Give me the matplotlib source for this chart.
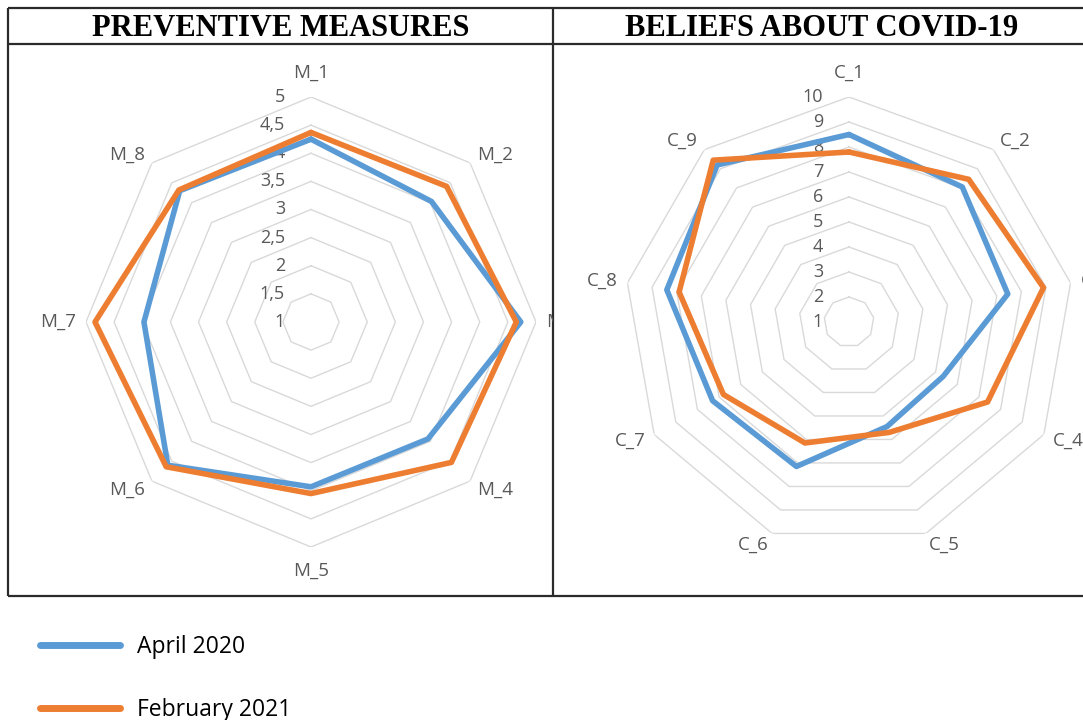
import numpy as np
import matplotlib.pyplot as plt
from matplotlib.transforms import Bbox, TransformedBbox

# data
measures = ["M_1", "M_2", "M_3", "M_4", "M_5", "M_6", "M_7", "M_8"]
measures_apr20 = [4.25, 4.03, 4.73, 3.94, 3.93, 4.60, 3.97, 4.30]
measures_feb21 = [4.37, 4.41, 4.65, 4.53, 4.05, 4.64, 4.84, 4.32]
measure_ticks = [1, 1.5, 2, 2.5, 3, 3.5, 4, 4.5, 5]

beliefs = ["C_1", "C_2", "C_3", "C_4", "C_5", "C_6", "C_7", "C_8", "C_9"]
beliefs_apr20 = [8.5, 8.05, 7.45, 5.35, 5.45, 7.15, 7.3, 8.4, 9.2]
beliefs_feb21 = [7.8, 8.45, 8.9, 7.4, 5.7, 6.15, 6.8, 7.9, 9.45]
belief_ticks = [1, 2, 3, 4, 5, 6, 7, 8, 9, 10]

series_names = ["April 2020", "February 2021"]

BLUE = "#5B9BD5"
ORANGE = "#ED7D31"
GRID = "#D9D9D9"
TXT = "#595959"

plt.rcParams['font.family'] = ['Open Sans', 'DejaVu Sans']

W, H = 1083, 720
fig = plt.figure(figsize=(W / 100, H / 100), dpi=100)

# table frame drawn in pixel coordinates
bg = fig.add_axes([0, 0, 1, 1])
bg.set_xlim(0, W)
bg.set_ylim(H, 0)
bg.axis('off')
frame = dict(color="#2b2b2b", lw=1.6, solid_capstyle='butt')
bg.plot([8, W], [8, 8], **frame)
bg.plot([8, W], [44, 44], **frame)
bg.plot([8, W], [596, 596], **frame)
bg.plot([8, 8], [8, 596], **frame)
bg.plot([553, 553], [8, 596], **frame)
title_font = dict(family='Liberation Serif', weight='bold', size=22,
                  ha='center', va='center', color='black')
bg.text(280.5, 28, "PREVENTIVE MEASURES", **title_font)
bg.text(822, 28, "BELIEFS ABOUT COVID-19", **title_font)


def radar(cx, cy, labels, apr, feb, ticks, comma, cell):
    '''
    Draws one Excel style radar chart centred on pixel (cx, cy),
    texts are clipped to the table cell (x0, x1) in pixels
    '''
    R = 225
    ax = fig.add_axes([(cx - R) / W, 1 - (cy + R) / H, 2 * R / W, 2 * R / H],
                      projection='polar')
    ax.set_theta_zero_location('N')
    ax.set_theta_direction(-1)
    ax.set_ylim(ticks[0], ticks[-1])
    ax.grid(False)
    ax.spines['polar'].set_visible(False)
    ax.set_xticks([])
    ax.set_yticks([])
    ax.patch.set_alpha(0)

    clip = TransformedBbox(Bbox([[cell[0] / 100, 124 / 100],
                                 [cell[1] / 100, 676 / 100]]),
                           fig.dpi_scale_trans)

    n = len(labels)
    theta = np.arange(n) * 2 * np.pi / n
    closed = np.append(theta, theta[0])

    # polygon grid rings
    for v in ticks[1:]:
        ax.plot(closed, [v] * (n + 1), color=GRID, lw=1.0, zorder=1)

    # ring value labels
    for v in ticks:
        s = str(v).replace('.', ',') if comma else str(v)
        ax.annotate(s, (0, v), xytext=(-26, 0), textcoords='offset pixels',
                    ha='right', va='center', fontsize=13, color=TXT,
                    zorder=2)

    # category labels
    for t, lab in zip(theta, labels):
        sn, cs = np.sin(t), np.cos(t)
        if abs(sn) < 0.05:
            ha = 'center'
            off = (0, 24 * np.sign(cs))
        else:
            ha = 'left' if sn > 0 else 'right'
            off = (10 * sn, 12 * cs)
        txt = ax.annotate(lab, (t, ticks[-1]), xytext=off,
                          textcoords='offset pixels', ha=ha, va='center',
                          fontsize=13.5, color=TXT, annotation_clip=False)
        txt.set_clip_box(clip)
        txt.set_clip_on(True)

    l1, = ax.plot(closed, np.append(apr, apr[0]), color=BLUE, lw=4,
                  solid_capstyle='round', zorder=3)
    l2, = ax.plot(closed, np.append(feb, feb[0]), color=ORANGE, lw=4,
                  solid_capstyle='round', zorder=4)
    return l1, l2


h1, h2 = radar(311, 322, measures, measures_apr20, measures_feb21,
               measure_ticks, True, (8, 553))
radar(849, 322, beliefs, beliefs_apr20, beliefs_feb21, belief_ticks, False,
      (553, W))

leg = fig.legend([h1, h2], series_names, loc='upper left',
                 bbox_to_anchor=(40 / W, 1 - 635 / H), frameon=False,
                 fontsize=16.5, handlelength=3.5, handletextpad=0.75,
                 labelspacing=1.7, borderpad=0, borderaxespad=0)
for line in leg.get_lines():
    line.set_linewidth(5)

plt.savefig("out.png", dpi=100)
